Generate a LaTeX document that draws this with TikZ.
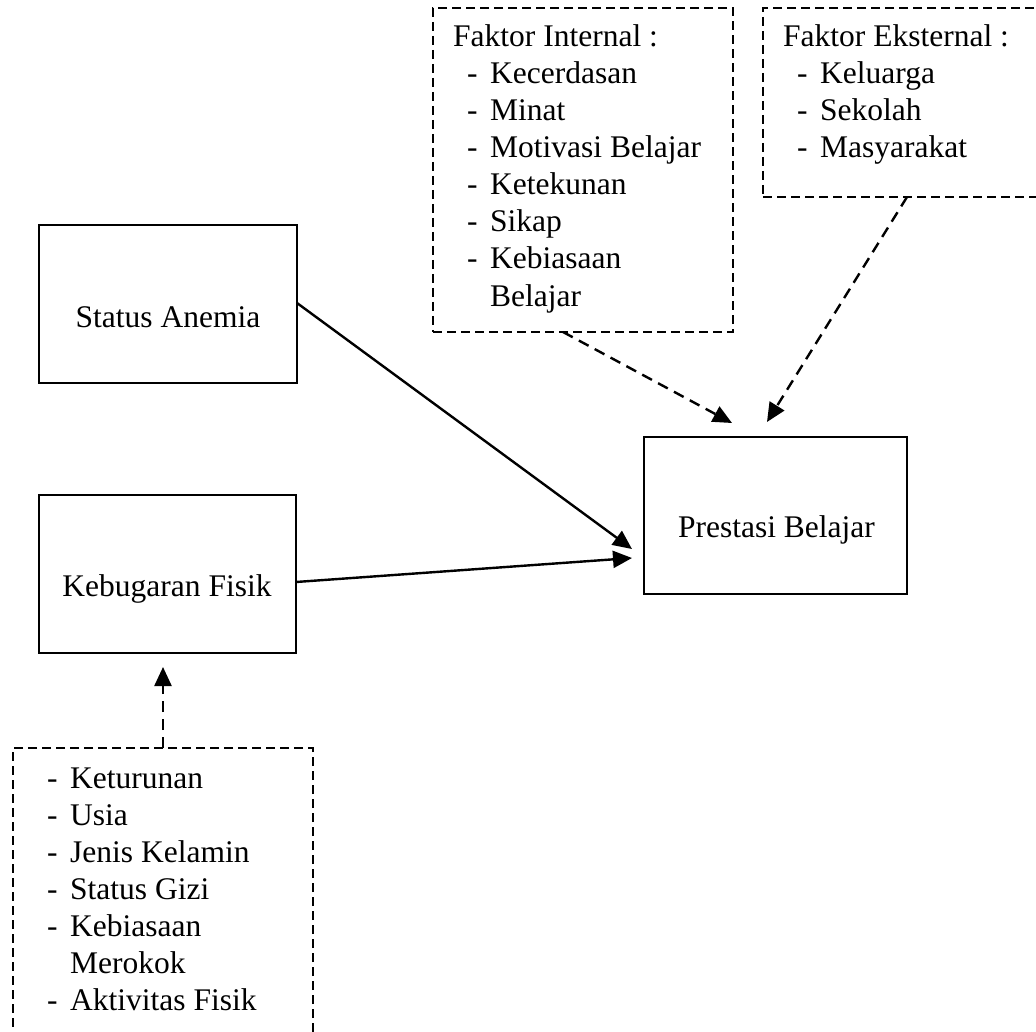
\documentclass[tikz,border=0pt]{standalone}
\usepackage{fontspec}
\setmainfont{Liberation Serif}
\usetikzlibrary{arrows.meta}
\begin{document}
\begin{tikzpicture}[x=1pt,y=-1pt,
  solidbox/.style={draw, line width=2.3pt, rectangle, inner sep=0pt},
  dashbox/.style={draw, line width=2.3pt, rectangle, inner sep=0pt, dash pattern=on 9pt off 5pt},
  txt/.style={anchor=base west, inner sep=0pt, font=\fontsize{31.5}{37}\selectfont},
  ctxt/.style={anchor=base, inner sep=0pt, font=\fontsize{31.5}{37}\selectfont},
  arr/.style={line width=2.4pt, -{Triangle[length=19pt,width=17pt]}},
  darr/.style={arr, dash pattern=on 11pt off 7pt}]
\useasboundingbox (0,0) rectangle (1036,1032);
\clip (0,0) rectangle (1036,1032);
% solid boxes
\node[solidbox, minimum width=258pt, minimum height=158pt] (sa) at (168,304) {};
\node[ctxt] (saT) at (168,327) {Status Anemia};
\node[solidbox, minimum width=257pt, minimum height=158pt] (kf) at (167.5,574) {};
\node[ctxt] (kfT) at (167,596) {Kebugaran Fisik};
\node[solidbox, minimum width=263pt, minimum height=157pt] (pb) at (775.5,515.5) {};
\node[ctxt] (pbT) at (776.5,537) {Prestasi Belajar};
% dashed boxes
\node[dashbox, minimum width=300pt, minimum height=324pt] (fi) at (583,170) {};
\node[dashbox, minimum width=300pt, minimum height=189pt] (fe) at (913,102.5) {};
\node[dashbox, minimum width=300pt, minimum height=320pt] (fk) at (163,908) {};
% internal text
\node[txt] (fi0) at (453,47) {Faktor Internal :};
\node[txt] (fi1) at (467,84) {\makebox[23pt][l]{-}Kecerdasan};
\node[txt] (fi2) at (467,121) {\makebox[23pt][l]{-}Minat};
\node[txt] (fi3) at (467,158) {\makebox[23pt][l]{-}Motivasi Belajar};
\node[txt] (fi4) at (467,195) {\makebox[23pt][l]{-}Ketekunan};
\node[txt] (fi5) at (467,232) {\makebox[23pt][l]{-}Sikap};
\node[txt] (fi6) at (467,269) {\makebox[23pt][l]{-}Kebiasaan};
\node[txt] (fi7) at (490,306) {Belajar};
% external text
\node[txt] (fe0) at (783,47) {Faktor Eksternal :};
\node[txt] (fe1) at (797,84) {\makebox[23pt][l]{-}Keluarga};
\node[txt] (fe2) at (797,121) {\makebox[23pt][l]{-}Sekolah};
\node[txt] (fe3) at (797,158) {\makebox[23pt][l]{-}Masyarakat};
% fitness factors text
\node[txt] (fk1) at (47,788) {\makebox[23pt][l]{-}Keturunan};
\node[txt] (fk2) at (47,825) {\makebox[23pt][l]{-}Usia};
\node[txt] (fk3) at (47,862) {\makebox[23pt][l]{-}Jenis Kelamin};
\node[txt] (fk4) at (47,899) {\makebox[23pt][l]{-}Status Gizi};
\node[txt] (fk5) at (47,936) {\makebox[23pt][l]{-}Kebiasaan};
\node[txt] (fk6) at (70,973) {Merokok};
\node[txt] (fk7) at (47,1010) {\makebox[23pt][l]{-}Aktivitas Fisik};
% connector end points
\coordinate (saOut) at (297,303);
\coordinate (kfOut) at (296,582);
\coordinate (pbIn1) at (632,549);
\coordinate (pbIn2) at (632,558);
\coordinate (fiOut) at (563,332);
\coordinate (feOut) at (907,197);
\coordinate (pbIn3) at (732,423);
\coordinate (pbIn4) at (767,422);
\coordinate (fkOut) at (163,748);
\coordinate (kfIn) at (163,667);
% connectors
\draw[arr] (saOut) -- (pbIn1);
\draw[arr] (kfOut) -- (pbIn2);
\draw[darr] (fiOut) -- (pbIn3);
\draw[darr] (feOut) -- (pbIn4);
\draw[darr] (fkOut) -- (kfIn);
\end{tikzpicture}
\end{document}
